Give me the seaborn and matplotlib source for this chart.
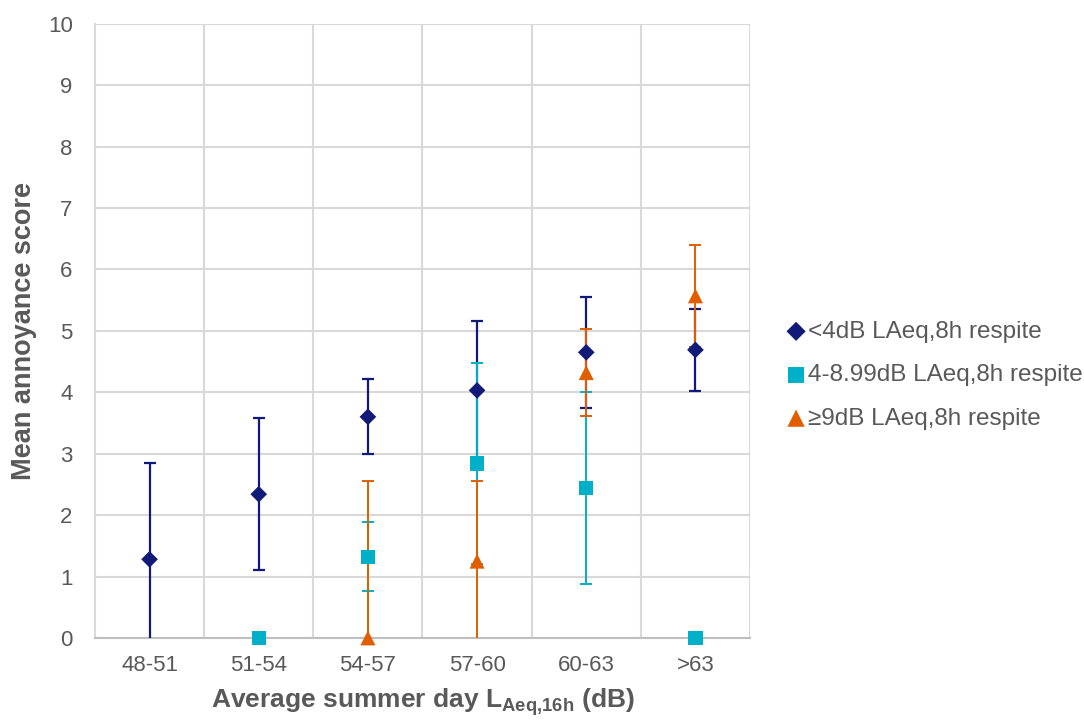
import numpy as np
import pandas as pd
import matplotlib
matplotlib.use("Agg")
import matplotlib.pyplot as plt
import seaborn as sns
from matplotlib.ticker import FixedLocator

categories = ["48-51", "51-54", "54-57", "57-60", "60-63", ">63"]
series_names = ["<4dB LAeq,8h respite", "4-8.99dB LAeq,8h respite", "\u22659dB LAeq,8h respite"]

low_mean = [1.28, 2.34, 3.60, 4.03, 4.65, 4.69]
low_err = [1.57, 1.24, 0.61, 1.13, 0.90, 0.67]
mid_mean = [np.nan, 0.00, 1.32, 2.84, 2.44, 0.00]
mid_err = [np.nan, 0.00, 0.56, 1.63, 1.57, 0.00]
high_mean = [np.nan, np.nan, 0.00, 1.25, 4.32, 5.57]
high_err = [np.nan, np.nan, 2.56, 1.30, 0.71, 0.83]

colors = {series_names[0]: "#111a78", series_names[1]: "#00afc8", series_names[2]: "#e05e00"}
markers = {series_names[0]: "D", series_names[1]: "s", series_names[2]: "^"}
marker_area = {series_names[0]: 72, series_names[1]: 106, series_names[2]: 117}

rows = []
for name, means, errs in zip(series_names, [low_mean, mid_mean, high_mean], [low_err, mid_err, high_err]):
    for i, cat in enumerate(categories):
        if not np.isnan(means[i]):
            rows.append({"series": name, "category": cat, "pos": i, "score": means[i], "err": errs[i]})
df = pd.DataFrame(rows)

sns.set_theme(style="white")
plt.rcParams["font.family"] = ["Liberation Sans", "DejaVu Sans"]
plt.rcParams["mathtext.fontset"] = "custom"
plt.rcParams["mathtext.rm"] = "Liberation Sans"
plt.rcParams["mathtext.bf"] = "Liberation Sans:bold"
plt.rcParams["mathtext.it"] = "Liberation Sans:italic"

fig = plt.figure(figsize=(10.84, 7.2), dpi=100)
ax = fig.add_axes([0.0876, 0.114, 0.6043, 0.853])

# error bars first, in series order, markers on top
for name in series_names:
    sub = df[(df["series"] == name) & (df["err"] > 0)]
    lw = 1.6 if name == series_names[0] else 1.4
    ax.errorbar(sub["pos"], sub["score"], yerr=sub["err"], fmt="none",
                ecolor=colors[name], elinewidth=lw, capsize=4.5, capthick=lw, zorder=3)

for name in series_names:
    sub = df[df["series"] == name]
    sns.scatterplot(data=sub, x="pos", y="score", marker=markers[name], color=colors[name],
                    s=marker_area[name], edgecolor="none", linewidth=0, ax=ax,
                    zorder=4, clip_on=False, label=name)

ax.set_xlim(-0.5, len(categories) - 0.5)
ax.set_ylim(0, 10)
ax.set_yticks(range(0, 11))
ax.set_xticks(range(len(categories)))
ax.set_xticklabels(categories)
ax.xaxis.set_minor_locator(FixedLocator(np.arange(0.5, len(categories), 1.0)))

ax.grid(True, axis="y", which="major", color="#d9d9d9", linewidth=1.5, zorder=0)
ax.grid(True, axis="x", which="minor", color="#d9d9d9", linewidth=1.5, zorder=0)
ax.grid(False, axis="x", which="major")
ax.set_axisbelow(True)

for side in ["top", "right"]:
    ax.spines[side].set_visible(False)
ax.spines["left"].set_color("#d9d9d9")
ax.spines["left"].set_linewidth(1.5)
ax.spines["bottom"].set_color("#bfbfbf")
ax.spines["bottom"].set_linewidth(1.5)

ax.tick_params(axis="both", which="both", length=0, labelsize=16, labelcolor="#595959")
ax.tick_params(axis="x", pad=12)
ax.tick_params(axis="y", pad=16)

ax.set_xlabel(r"Average summer day L$_{\mathbf{Aeq{,}16h}}$ (dB)", fontsize=19, fontweight="bold",
              color="#595959", labelpad=8)
ax.set_ylabel("Mean annoyance score", fontsize=19.5, fontweight="bold", color="#595959",
              labelpad=8)

handles, labels = ax.get_legend_handles_labels()
leg = ax.legend(handles, labels, loc="center left", bbox_to_anchor=(0.703, 0.479),
                bbox_transform=fig.transFigure, frameon=False, fontsize=17.5,
                handletextpad=0.0, labelspacing=0.88, handlelength=1.0, markerscale=1.15)
for text in leg.get_texts():
    text.set_color("#595959")

fig.savefig("out.png", dpi=100)
plt.close(fig)
